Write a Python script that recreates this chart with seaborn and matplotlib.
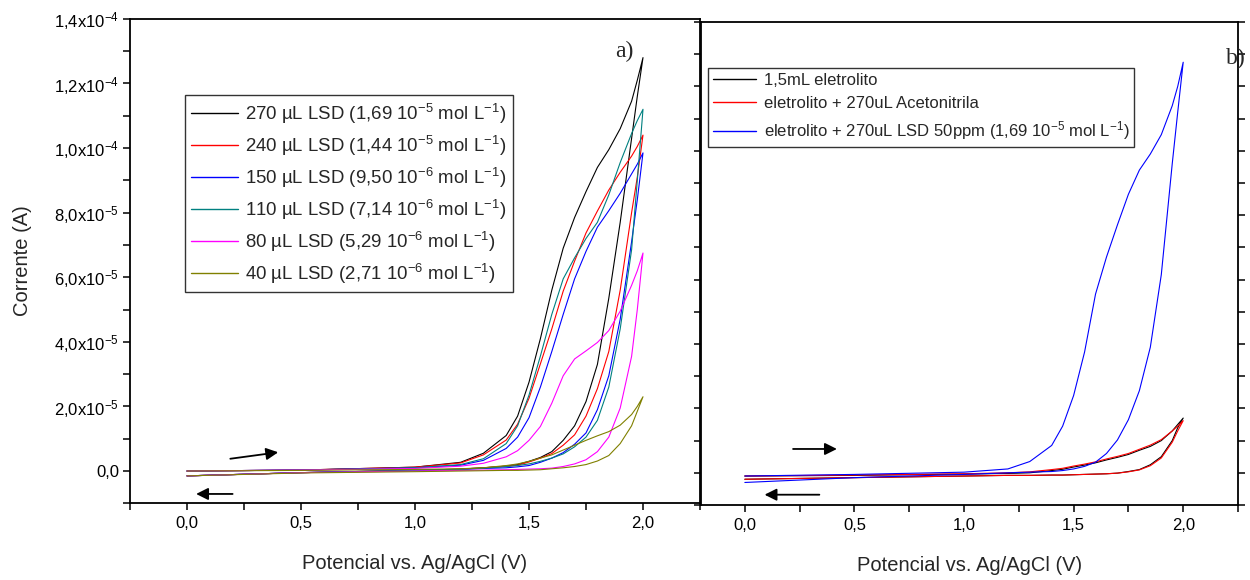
import numpy as np
import pandas as pd
import matplotlib
matplotlib.use("Agg")
import matplotlib.pyplot as plt
from matplotlib.ticker import MultipleLocator, FuncFormatter
import seaborn as sns

# ---------------- data (current in units of 1e-5 A) ----------------
potential = [0.0, 0.5, 1.0, 1.2, 1.3, 1.4, 1.45, 1.5, 1.55, 1.6, 1.65, 1.7,
             1.75, 1.8, 1.85, 1.9, 1.95, 1.975, 2.0]

# panel a) : forward (lower) branch and reverse (upper) branch
a_labels = [
    r"270 µL LSD (1,69 10$^{-5}$ mol L$^{-1}$)",
    r"240 µL LSD (1,44 10$^{-5}$ mol L$^{-1}$)",
    r"150 µL LSD (9,50 10$^{-6}$ mol L$^{-1}$)",
    r"110 µL LSD (7,14 10$^{-6}$ mol L$^{-1}$)",
    r"80 µL LSD (5,29 10$^{-6}$ mol L$^{-1}$)",
    r"40 µL LSD (2,71 10$^{-6}$ mol L$^{-1}$)",
]
a_colors = ["#000000", "#ff0000", "#0000ff", "#008080", "#ff00ff", "#808000"]

lsd270_fwd = [-0.15, -0.05, 0.02, 0.06, 0.10, 0.15, 0.20, 0.30, 0.42, 0.60, 0.95, 1.40,
              2.15, 3.30, 5.35, 7.70, 10.3, 11.6, 12.8]
lsd270_rev = [0.0, 0.03, 0.12, 0.27, 0.55, 1.10, 1.70, 2.75, 4.10, 5.60, 6.90, 7.85,
              8.65, 9.40, 9.95, 10.6, 11.45, 12.1, 12.8]
lsd240_fwd = [-0.15, -0.05, 0.02, 0.06, 0.10, 0.15, 0.18, 0.28, 0.40, 0.54, 0.80, 1.12,
              1.70, 2.55, 3.70, 5.60, 8.00, 9.10, 10.4]
lsd240_rev = [0.0, 0.03, 0.12, 0.25, 0.50, 0.96, 1.45, 2.25, 3.32, 4.40, 5.57, 6.50,
              7.37, 8.05, 8.70, 9.25, 9.75, 10.05, 10.4]
lsd150_fwd = [-0.15, -0.05, 0.02, 0.05, 0.08, 0.10, 0.13, 0.17, 0.27, 0.40, 0.57, 0.83,
              1.18, 1.90, 2.95, 4.70, 7.10, 8.40, 9.85]
lsd150_rev = [0.0, 0.03, 0.10, 0.18, 0.33, 0.70, 1.05, 1.65, 2.60, 3.70, 4.85, 5.95,
              6.80, 7.55, 8.06, 8.60, 9.20, 9.50, 9.85]
lsd110_fwd = [-0.15, -0.05, 0.02, 0.05, 0.09, 0.14, 0.17, 0.22, 0.30, 0.40, 0.53, 0.75,
              1.05, 1.57, 2.60, 4.40, 6.85, 9.00, 11.2]
lsd110_rev = [0.0, 0.03, 0.10, 0.20, 0.38, 0.85, 1.40, 2.35, 3.56, 4.85, 5.95, 6.60,
              7.20, 7.70, 8.55, 9.55, 10.45, 10.85, 11.2]
lsd80_fwd = [-0.15, -0.05, 0.0, 0.02, 0.03, 0.04, 0.05, 0.06, 0.07, 0.09, 0.14, 0.22,
             0.35, 0.60, 1.05, 1.95, 3.55, 5.00, 6.75]
lsd80_rev = [0.0, 0.03, 0.08, 0.15, 0.24, 0.44, 0.63, 0.95, 1.38, 2.10, 2.95, 3.47,
             3.72, 3.98, 4.35, 4.95, 5.75, 6.20, 6.75]
lsd40_fwd = [-0.15, -0.06, -0.02, 0.0, 0.01, 0.02, 0.02, 0.03, 0.04, 0.07, 0.10, 0.14,
             0.20, 0.31, 0.48, 0.85, 1.40, 1.85, 2.30]
lsd40_rev = [0.0, 0.02, 0.05, 0.07, 0.10, 0.17, 0.22, 0.30, 0.40, 0.50, 0.65, 0.80,
             0.95, 1.09, 1.22, 1.42, 1.75, 2.00, 2.30]

# panel b)
b_labels = [
    "1,5mL eletrolito",
    "eletrolito + 270uL Acetonitrila",
    r"eletrolito + 270uL LSD 50ppm (1,69 10$^{-5}$ mol L$^{-1}$)",
]
b_colors = ["#000000", "#ff0000", "#0000ff"]

eletrolito_fwd = [-0.20, -0.15, -0.10, -0.08, -0.08, -0.07, -0.07, -0.06, -0.05, -0.04, -0.03,
                  -0.01, 0.04, 0.10, 0.25, 0.50, 1.00, 1.40, 1.70]
eletrolito_rev = [-0.10, -0.08, -0.04, -0.02, 0.0, 0.07, 0.11, 0.18, 0.24, 0.31, 0.40, 0.48,
                  0.57, 0.70, 0.82, 1.00, 1.30, 1.50, 1.70]
acetonitrila_fwd = [-0.20, -0.15, -0.10, -0.08, -0.08, -0.07, -0.07, -0.06, -0.05, -0.04, -0.03,
                    -0.01, 0.03, 0.09, 0.22, 0.46, 0.95, 1.30, 1.62]
acetonitrila_rev = [-0.10, -0.07, -0.03, 0.0, 0.03, 0.10, 0.14, 0.21, 0.27, 0.34, 0.43, 0.51,
                    0.60, 0.73, 0.86, 1.03, 1.30, 1.45, 1.62]
lsd50ppm_fwd = [-0.30, -0.15, -0.05, 0.0, 0.02, 0.04, 0.07, 0.12, 0.20, 0.33, 0.60, 1.02,
                1.65, 2.55, 3.90, 6.15, 9.60, 11.2, 12.75]
lsd50ppm_rev = [-0.10, -0.05, 0.02, 0.12, 0.35, 0.85, 1.45, 2.40, 3.75, 5.55, 6.70, 7.70,
                8.65, 9.40, 9.90, 10.5, 11.4, 12.0, 12.75]

a_fwd = [lsd270_fwd, lsd240_fwd, lsd150_fwd, lsd110_fwd, lsd80_fwd, lsd40_fwd]
a_rev = [lsd270_rev, lsd240_rev, lsd150_rev, lsd110_rev, lsd80_rev, lsd40_rev]
b_fwd = [eletrolito_fwd, acetonitrila_fwd, lsd50ppm_fwd]
b_rev = [eletrolito_rev, acetonitrila_rev, lsd50ppm_rev]

UNIT = 1e-5


def build_frame(labels, fwd_list, rev_list):
    rows = []
    for lab, fwd, rev in zip(labels, fwd_list, rev_list):
        e = list(potential) + list(potential[::-1])
        i = list(fwd) + list(rev[::-1])
        for k, (ee, ii) in enumerate(zip(e, i)):
            rows.append({"serie": lab, "E": ee, "I": ii * UNIT, "ordem": k})
    return pd.DataFrame(rows)


df_a = build_frame(a_labels, a_fwd, a_rev)
df_b = build_frame(b_labels, b_fwd, b_rev)

# ---------------- style ----------------
sns.set_style("white")
plt.rcParams["font.family"] = ["Liberation Sans", "DejaVu Sans"]
plt.rcParams["mathtext.fontset"] = "custom"
plt.rcParams["mathtext.rm"] = "Liberation Sans"
plt.rcParams["mathtext.it"] = "Liberation Sans"
plt.rcParams["mathtext.default"] = "regular"

fig = plt.figure(figsize=(12.5, 5.8), dpi=100)
ax1 = fig.add_axes([0.104, 0.1322, 0.456, 0.8353])
ax2 = fig.add_axes([0.5608, 0.1293, 0.4296, 0.8328])

sns.lineplot(data=df_a, x="E", y="I", hue="serie", palette=a_colors, hue_order=a_labels,
             sort=False, estimator=None, ax=ax1, linewidth=0.8)
sns.lineplot(data=df_b, x="E", y="I", hue="serie", palette=b_colors, hue_order=b_labels,
             sort=False, estimator=None, ax=ax2, linewidth=0.8)


def sci_fmt(v, pos):
    if abs(v) < 1e-12:
        return "0,0"
    ex = int(np.floor(np.log10(abs(v)) + 1e-9))
    mant = v / 10 ** ex
    return ("%.1f" % mant).replace(".", ",") + r"x10$^{%d}$" % ex


def comma_fmt(v, pos):
    return ("%.1f" % v).replace(".", ",")


for ax, xl in ((ax1, (-0.25, 2.25)), (ax2, (-0.2, 2.25))):
    ax.set_xlim(*xl)
    ax.set_ylim(-1e-5, 1.4e-4)
    ax.xaxis.set_major_locator(MultipleLocator(0.5))
    ax.xaxis.set_minor_locator(MultipleLocator(0.25))
    ax.yaxis.set_major_locator(MultipleLocator(2e-5))
    ax.yaxis.set_minor_locator(MultipleLocator(1e-5))
    ax.xaxis.set_major_formatter(FuncFormatter(comma_fmt))
    for s in ax.spines.values():
        s.set_visible(True)
        s.set_color("black")
        s.set_linewidth(1.3)
    ax.tick_params(axis="both", which="both", direction="out", length=5, width=1.1,
                   colors="black", labelsize=12, bottom=True)
    ax.tick_params(axis="x", which="major", pad=4)
    ax.set_xlabel("Potencial vs. Ag/AgCl (V)", fontsize=14.5, labelpad=17)

ax1.yaxis.set_major_formatter(FuncFormatter(sci_fmt))
ax1.tick_params(axis="y", which="both", left=True, right=False, pad=3)
ax1.set_ylabel("Corrente (A)", fontsize=14.5, labelpad=16)

ax2.set_ylabel("")
ax2.tick_params(axis="y", which="both", left=True, labelleft=False)
ax2.tick_params(axis="y", which="both", right=True, direction="in")
ax2.tick_params(axis="y", which="both", left=True, direction="out")

# legends
h1, l1 = ax1.get_legend_handles_labels()
leg1 = ax1.legend(h1, l1, loc="upper left", bbox_to_anchor=(0.096, 0.842), frameon=True,
                  fancybox=False, edgecolor="black", fontsize=13.4, handlelength=2.5,
                  handletextpad=0.4, labelspacing=0.42, borderpad=0.35, borderaxespad=0)
leg1.get_frame().set_linewidth(1.0)

h2, l2 = ax2.get_legend_handles_labels()
leg2 = ax2.legend(h2, l2, loc="upper left", bbox_to_anchor=(0.013, 0.905), frameon=True,
                  fancybox=False, edgecolor="black", handlelength=2.6,
                  handletextpad=0.45, labelspacing=0.5, borderpad=0.3, borderaxespad=0,
                  prop={"family": ["Liberation Sans", "DejaVu Sans"], "size": 12})
leg2.get_frame().set_linewidth(1.0)
for leg in (leg1, leg2):
    for ln in leg.get_lines():
        ln.set_linewidth(1.0)

# panel letters
ax1.text(0.868, 0.932, "a)", transform=ax1.transAxes, fontsize=17,
         family=["Liberation Serif", "DejaVu Serif"], ha="center", va="center")
ax2.text(0.996, 0.925, "b)", transform=ax2.transAxes, fontsize=17,
         family=["Liberation Serif", "DejaVu Serif"], ha="center", va="center")

# scan direction arrows
arrow_kw = dict(arrowstyle="-|>", color="black", lw=1.3, mutation_scale=18,
                shrinkA=0, shrinkB=0)
ax1.annotate("", xy=(0.40, 0.58e-5), xytext=(0.19, 0.38e-5), arrowprops=arrow_kw)
ax1.annotate("", xy=(0.04, -0.71e-5), xytext=(0.20, -0.71e-5), arrowprops=arrow_kw)
ax2.annotate("", xy=(0.42, 0.74e-5), xytext=(0.22, 0.74e-5), arrowprops=arrow_kw)
ax2.annotate("", xy=(0.09, -0.68e-5), xytext=(0.34, -0.68e-5), arrowprops=arrow_kw)

fig.savefig("out.png", dpi=100)
